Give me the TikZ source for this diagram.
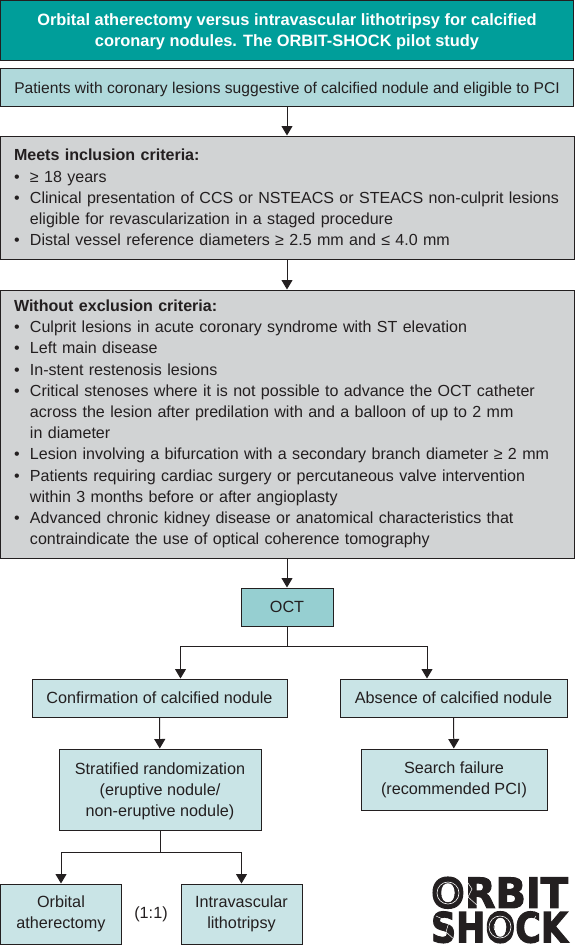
\documentclass[tikz,border=0pt]{standalone}
\usepackage{fontspec}
\setmainfont{Liberation Sans}
\newfontfamily\logofont[BoldFeatures={FakeBold=2.5}]{DejaVu Sans}
\usetikzlibrary{arrows.meta}
\definecolor{titleteal}{HTML}{009E9A}
\definecolor{palecyan}{HTML}{B0D9DB}
\definecolor{midcyan}{HTML}{96CFD1}
\definecolor{lightcyan}{HTML}{C9E4E6}
\definecolor{critgrey}{HTML}{D1D3D4}
\definecolor{inkline}{HTML}{231F20}
\tikzset{
  box/.style={draw=inkline,line width=1pt,align=center,text=inkline,inner sep=0pt,font=\fontsize{16.2}{21.2}\selectfont},
  titlebox/.style={box,fill=titleteal,text=white,font=\fontsize{16.4}{21.2}\selectfont\bfseries},
  critbox/.style={box,fill=critgrey,align=left,text width=546pt,inner xsep=14pt,font=\fontsize{16.05}{21.2}\selectfont},
  flow/.style={draw=inkline,line width=1pt,-{Triangle[length=9.5pt,width=11pt]}},
  ring/.style={draw=white,line width=0.6pt},
  crack/.style={draw=white,line width=0.5pt},
}
\def\crit#1{\mbox{\makebox[16pt][l]{\textbullet}#1}\\}
\def\critmore#1{\mbox{\hspace*{16pt}#1}\\}
\def\dropline#1{\rule{0pt}{#1}}
\begin{document}
\begin{tikzpicture}[x=1pt,y=1pt]
\useasboundingbox (0,0) rectangle (574,-946);
\node[titlebox,minimum width=573pt,minimum height=60pt] (title) at (287,-30) {\dropline{16pt}Orbital atherectomy versus intravascular lithotripsy for calcified\\coronary nodules. The ORBIT-SHOCK pilot study};
\node[box,fill=palecyan,minimum width=573pt,minimum height=38pt,font=\fontsize{15.6}{21.2}\selectfont] (patients) at (287,-87.5) {\dropline{15pt}Patients with coronary lesions suggestive of calcified nodule and eligible to PCI};
\node[critbox,minimum height=123pt] (inclusion) at (287,-197.5) {\textbf{Meets inclusion criteria:}\\
\crit{≥ 18 years}
\crit{Clinical presentation of CCS or NSTEACS or STEACS non-culprit lesions}
\critmore{eligible for revascularization in a staged procedure}
\crit{Distal vessel reference diameters ≥ 2.5 mm and ≤ 4.0 mm}};
\node[critbox,minimum height=268pt] (exclusion) at (287,-424) {\textbf{Without exclusion criteria:}\\
\crit{Culprit lesions in acute coronary syndrome with ST elevation}
\crit{Left main disease}
\crit{In-stent restenosis lesions}
\crit{Critical stenoses where it is not possible to advance the OCT catheter}
\critmore{across the lesion after predilation with and a balloon of up to 2 mm}
\critmore{in diameter}
\crit{Lesion involving a bifurcation with a secondary branch diameter ≥ 2 mm}
\crit{Patients requiring cardiac surgery or percutaneous valve intervention}
\critmore{within 3 months before or after angioplasty}
\crit{Advanced chronic kidney disease or anatomical characteristics that}
\critmore{contraindicate the use of optical coherence tomography}};
\node[box,fill=midcyan,minimum width=92pt,minimum height=38pt] (oct) at (287,-607) {OCT};
\node[box,fill=lightcyan,minimum width=255pt,minimum height=38pt] (confirm) at (159.5,-698) {Confirmation of calcified nodule};
\node[box,fill=lightcyan,minimum width=227pt,minimum height=38pt] (absence) at (453.5,-698) {Absence of calcified nodule};
\node[box,fill=lightcyan,minimum width=202pt,minimum height=81pt] (strat) at (160,-789.5) {\dropline{15pt}Stratified randomization\\(eruptive nodule/\\non-eruptive nodule)};
\node[box,fill=lightcyan,minimum width=186pt,minimum height=61pt] (search) at (454,-779.5) {Search failure\\(recommended PCI)};
\node[box,fill=lightcyan,minimum width=121pt,minimum height=60pt] (orbital) at (61,-914) {Orbital\\atherectomy};
\node[box,fill=lightcyan,minimum width=121pt,minimum height=60pt] (ivl) at (241.5,-914) {Intravascular\\lithotripsy};
\node[text=inkline,font=\fontsize{16.2}{21.2}\selectfont] (ratio) at (151,-914) {(1:1)};
\coordinate (octfork) at (287,-646);
\coordinate (stratfork) at (160,-852);
\draw[flow] (patients) -- (inclusion);
\draw[flow] (inclusion) -- (exclusion);
\draw[flow] (exclusion) -- (oct);
\draw[draw=inkline,line width=1pt] (oct) -- (octfork);
\draw[flow] (octfork) -| (confirm.north -| 180.5,0);
\draw[flow] (octfork) -| (absence.north -| 427,0);
\draw[flow] (confirm) -- (strat);
\draw[flow] (absence) -- (search);
\draw[draw=inkline,line width=1pt] (strat) -- (stratfork);
\draw[flow] (stratfork) -| (orbital);
\draw[flow] (stratfork) -| (ivl);
\node[inner sep=0pt,text=inkline,align=center,font=\fontsize{34}{34.5}\selectfont] (logo) at (499.5,-910) {\resizebox{137pt}{31pt}{\logofont\bfseries ORBIT}\\\resizebox{137pt}{31pt}{\logofont\bfseries SHOCK}};
\draw[ring] (448,-893) circle (6pt) (448,-893) circle (11pt);
\draw[ring] (500,-927) circle (6pt) (500,-927) circle (11pt);
\draw[crack] (466,-880) -- (472,-889) -- (468,-897) -- (478,-906);
\draw[crack] (436,-916) -- (449,-922) -- (446,-932) -- (456,-941);
\draw[crack] (536,-916) -- (529,-926) -- (536,-934);
\end{tikzpicture}
\end{document}
